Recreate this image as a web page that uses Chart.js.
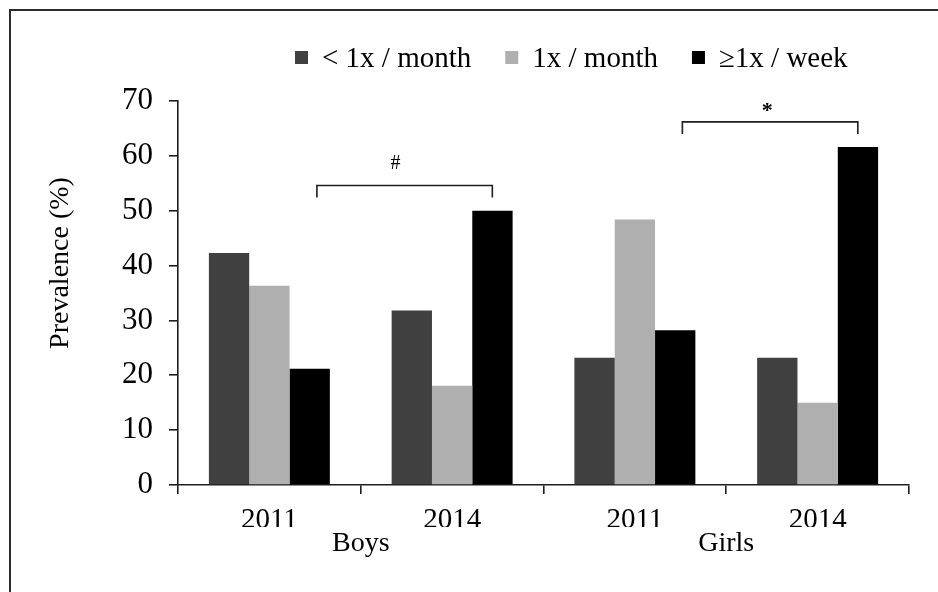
<!DOCTYPE html>
<html>
<head>
<meta charset="utf-8">
<script src="https://cdn.jsdelivr.net/npm/chart.js@4.4.1/dist/chart.umd.min.js"></script>
<style>
  html, body { margin: 0; padding: 0; background: #fff; overflow: hidden; }
  #wrap { position: relative; width: 938px; height: 592px; overflow: hidden; }
  #frame { position: absolute; left: 9px; top: 9px; width: 1000px; height: 700px;
           border-top: 2px solid #2b2b2b; border-left: 2px solid #2b2b2b; }
  canvas { position: absolute; left: 0; top: 0; }
</style>
</head>
<body>
<div id="wrap">
  <div id="frame"></div>
  <canvas id="myChart" width="938" height="592"></canvas>
</div>
<script>
// data
const years = ['2011', '2014', '2011', '2014'];
const groups = ['Boys', 'Girls'];
const seriesNames = ['< 1x / month', '1x / month', '\u22651x / week'];
const lessThanMonthly = [42.3, 31.8, 23.2, 23.2];
const monthly = [36.3, 18.1, 48.4, 15.0];
const weekly = [21.2, 50.0, 28.2, 61.6];
const yMin = 0;
const yMax = 70;
const yStep = 10;

Chart.defaults.font.family = '"Liberation Serif", "Times New Roman", serif';
Chart.defaults.color = '#000';

const axisColor = '#1e1e1e';

// legend, y title and significance brackets drawn on the canvas
const extras = {
    id: 'extras',
    afterDraw(chart, args, opts) {
        const { ctx, scales: { x, y } } = chart;
        ctx.save();

        // legend
        ctx.font = '29px "Liberation Serif"';
        ctx.textBaseline = 'alphabetic';
        ctx.textAlign = 'left';
        let lx = 295;
        chart.data.datasets.forEach(ds => {
            ctx.fillStyle = ds.backgroundColor;
            ctx.fillRect(lx, 51, 13, 13);
            ctx.fillStyle = '#000';
            ctx.fillText(ds.label, lx + 27, 67);
            lx += 27 + ctx.measureText(ds.label).width + 34;
        });

        // y axis title
        ctx.save();
        ctx.translate(61, 263);
        ctx.rotate(-Math.PI / 2);
        ctx.font = '28px "Liberation Serif"';
        ctx.textAlign = 'center';
        ctx.textBaseline = 'middle';
        ctx.fillText('Prevalence (%)', 0, 0);
        ctx.restore();

        // brackets
        ctx.strokeStyle = axisColor;
        ctx.lineWidth = 1.6;
        opts.brackets.forEach(b => {
            const x0 = x.getPixelForValue(b.from);
            const x1 = x.getPixelForValue(b.to);
            const yTop = y.getPixelForValue(b.level);
            const yLow = y.getPixelForValue(b.level - 2.2);
            ctx.beginPath();
            ctx.moveTo(x0, yLow);
            ctx.lineTo(x0, yTop);
            ctx.lineTo(x1, yTop);
            ctx.lineTo(x1, yLow);
            ctx.stroke();
            ctx.font = b.font;
            ctx.textAlign = 'center';
            ctx.textBaseline = 'middle';
            ctx.fillStyle = '#000';
            ctx.fillText(b.mark, x.getPixelForValue(b.labelX), y.getPixelForValue(b.labelAt));
        });
        ctx.restore();
    }
};

new Chart(document.getElementById('myChart'), {
    type: 'bar',
    data: {
        labels: years,
        datasets: [
            { label: seriesNames[0], data: lessThanMonthly, backgroundColor: '#404040' },
            { label: seriesNames[1], data: monthly, backgroundColor: '#afafaf' },
            { label: seriesNames[2], data: weekly, backgroundColor: '#000000' }
        ]
    },
    options: {
        responsive: false,
        animation: false,
        layout: { padding: { left: 0, right: 29, top: 101, bottom: 25 } },
        datasets: {
            bar: { categoryPercentage: 0.662, barPercentage: 1, borderWidth: 0 }
        },
        scales: {
            x: {
                weight: 0,
                grid: { offset: true, drawOnChartArea: false, drawTicks: true, tickLength: 9, color: axisColor, lineWidth: 1.6 },
                border: { display: true, color: axisColor, width: 1.6 },
                ticks: { font: { size: 29 }, padding: 9, color: '#000' },
                afterFit: s => { s.height = 42; }
            },
            x2: {
                type: 'category',
                position: 'bottom',
                weight: 1,
                labels: groups,
                offset: true,
                grid: { display: false, drawTicks: false },
                border: { display: false },
                ticks: { font: { size: 28 }, padding: 0, color: '#000' },
                afterFit: s => { s.height = 40; }
            },
            y: {
                min: yMin,
                max: yMax,
                ticks: { stepSize: yStep, font: { size: 31 }, padding: 16, color: '#000' },
                grid: { drawOnChartArea: false, drawTicks: true, tickLength: 9, color: axisColor, lineWidth: 1.6 },
                border: { display: true, color: axisColor, width: 1.6 },
                afterFit: s => { s.width = 178; }
            }
        },
        plugins: {
            legend: { display: false },
            tooltip: { enabled: false },
            extras: {
                brackets: [
                    { from: 0.26, to: 1.22, level: 54.6, labelX: 0.69, labelAt: 58.6, mark: '#', font: '20px "Liberation Serif"' },
                    { from: 2.26, to: 3.22, level: 66.2, labelX: 2.725, labelAt: 68.1, mark: '*', font: 'bold 22px "Liberation Serif"' }
                ]
            }
        }
    },
    plugins: [extras]
});
</script>
</body>
</html>
